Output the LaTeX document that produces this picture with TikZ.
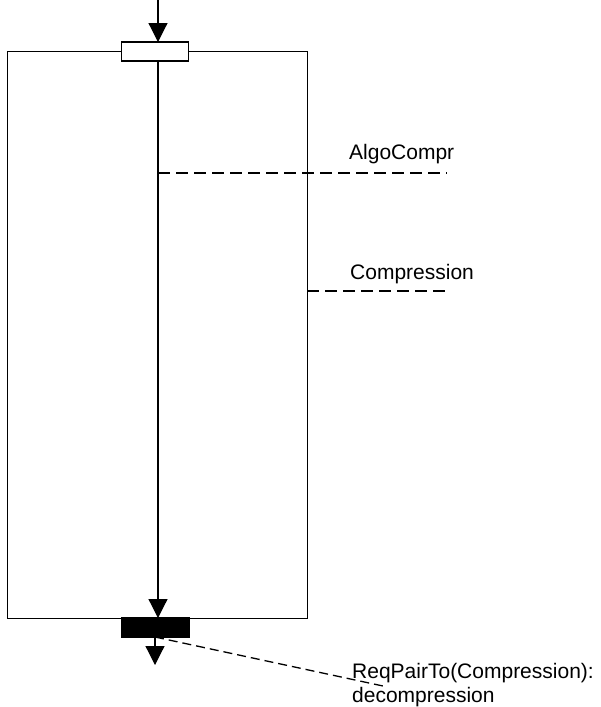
\documentclass[tikz,border=0pt]{standalone}
\usepackage{fontspec}
\setmainfont{Liberation Sans}
\usetikzlibrary{arrows.meta}
\begin{document}
\begin{tikzpicture}[x=1pt,y=-1pt,
  lbl/.style={anchor=base west,inner sep=0pt,font=\fontsize{21}{24}\selectfont,align=left},
  thin/.style={line width=1pt},
  flow/.style={line width=1.2pt,-{Triangle[width=19pt,length=19pt]}},
  port/.style={draw,line width=1.2pt,minimum width=67pt,minimum height=19pt,inner sep=0pt},
  iface/.style={line width=2.5pt,dash pattern=on 12pt off 6pt},
  note/.style={line width=1.3pt,dash pattern=on 9pt off 5pt}]
\useasboundingbox (0,0) rectangle (601,707);
\node[draw,thin,minimum width=300pt,minimum height=567pt,inner sep=0pt,anchor=north west] (box) at (7,51) {};
\node[port,fill=white] (inport) at (155,51.5) {};
\node[port,fill=black] (outport) at (155.5,627.5) {};
\coordinate (src) at (158,0);
\coordinate (sink) at (155,665);
\draw[flow] (src) -- (158,42);
\draw[flow] (158,61) -- (158,618);
\draw[flow] (155,637) -- (sink);
\coordinate (a1) at (158,173);
\coordinate (a2) at (447,173);
\coordinate (c1) at (307,291);
\coordinate (c2) at (447,291);
\draw[iface] (a1) -- (a2);
\draw[iface] (c1) -- (c2);
\node[lbl] (algo) at (349,159) {AlgoCompr};
\node[lbl] (comp) at (350,279) {Compression};
\node[lbl] (req) at (352,678) {ReqPairTo(Compression):};
\node[lbl] (req2) at (352,702) {decompression};
\coordinate (n1) at (155,637);
\coordinate (n2) at (383,686);
\draw[note] (n1) -- (n2);
\end{tikzpicture}
\end{document}
